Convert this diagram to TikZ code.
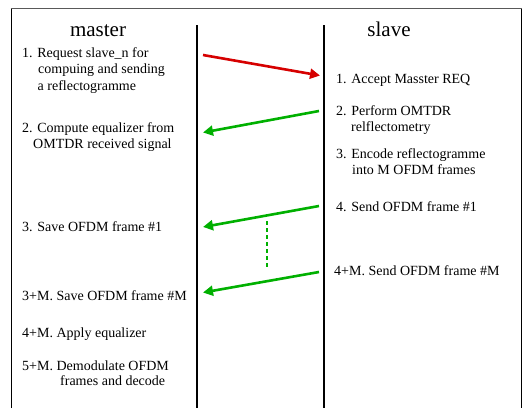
\documentclass[tikz,border=0pt]{standalone}
\usepackage{fontspec}
\setmainfont{Liberation Serif}
\usetikzlibrary{arrows.meta}
\definecolor{myred}{RGB}{214,0,0}
\definecolor{mygreen}{RGB}{0,176,0}
\begin{document}
\begin{tikzpicture}[x=1pt,y=-1pt,
  txt/.style={anchor=base west,inner sep=0pt,font=\fontsize{14}{16}\selectfont},
  ttl/.style={anchor=base,inner sep=0pt,font=\fontsize{21}{24}\selectfont},
  msg/.style={line width=2.6pt,-{Triangle[length=10pt,width=10pt]}},
  life/.style={line width=1.6pt}]
\useasboundingbox (0,0) rectangle (524,408);
% frame
\draw[black,line width=0.9pt] (11,408) -- (11,8.5);
\draw[black,line width=0.9pt] (521,8.5) -- (521,408);
\draw[black!65,line width=1.2pt] (10.5,8.5) -- (521.5,8.5);
% lifelines
\coordinate (mtop) at (197,25);
\coordinate (mbot) at (197,408);
\coordinate (stop) at (324,25);
\coordinate (sbot) at (324,408);
\draw[life] (mtop) -- (mbot);
\draw[life] (stop) -- (sbot);
% titles
\node[ttl] (tm) at (98,36) {master};
\node[ttl] (ts) at (389,36) {slave};
% master texts
\node[txt] (m1a) at (22,57) {1. Request slave\_n for};
\node[txt] (m1b) at (38,73.5) {compuing and sending};
\node[txt] (m1c) at (37.5,90) {a reflectogramme};
\node[txt] (m2a) at (22,132) {2. Compute equalizer from};
\node[txt] (m2b) at (33,148) {OMTDR received signal};
\node[txt] (m3) at (22,231) {3. Save OFDM frame \#1};
\node[txt] (m3m) at (22,300) {3+M. Save OFDM frame \#M};
\node[txt] (m4m) at (22,337.5) {4+M. Apply equalizer};
\node[txt] (m5a) at (22,370) {5+M. Demodulate OFDM};
\node[txt] (m5b) at (60,385.5) {frames and decode};
% slave texts
\node[txt] (s1) at (336,83) {1. Accept Masster REQ};
\node[txt] (s2a) at (336,115) {2. Perform OMTDR};
\node[txt] (s2b) at (351,131) {relflectometry};
\node[txt] (s3a) at (336,158) {3. Encode reflectogramme};
\node[txt] (s3b) at (352,174) {into M OFDM frames};
\node[txt] (s4) at (336,211) {4. Send OFDM frame \#1};
\node[txt] (s4m) at (334,275) {4+M. Send OFDM frame \#M};
% message end points
\coordinate (a1s) at (203,55);
\coordinate (a1e) at (320,75.5);
\coordinate (a2s) at (319,111);
\coordinate (a2e) at (203,132.5);
\coordinate (a3s) at (319,206);
\coordinate (a3e) at (203,227);
\coordinate (a4s) at (319,272);
\coordinate (a4e) at (203,292.5);
\coordinate (d1) at (267,221);
\coordinate (d2) at (267,268);
\draw[msg,myred] (a1s) -- (a1e);
\draw[msg,mygreen] (a2s) -- (a2e);
\draw[msg,mygreen] (a3s) -- (a3e);
\draw[msg,mygreen] (a4s) -- (a4e);
\draw[mygreen,line width=1.5pt,dash pattern=on 4pt off 3pt] (d1) -- (d2);
\end{tikzpicture}
\end{document}
